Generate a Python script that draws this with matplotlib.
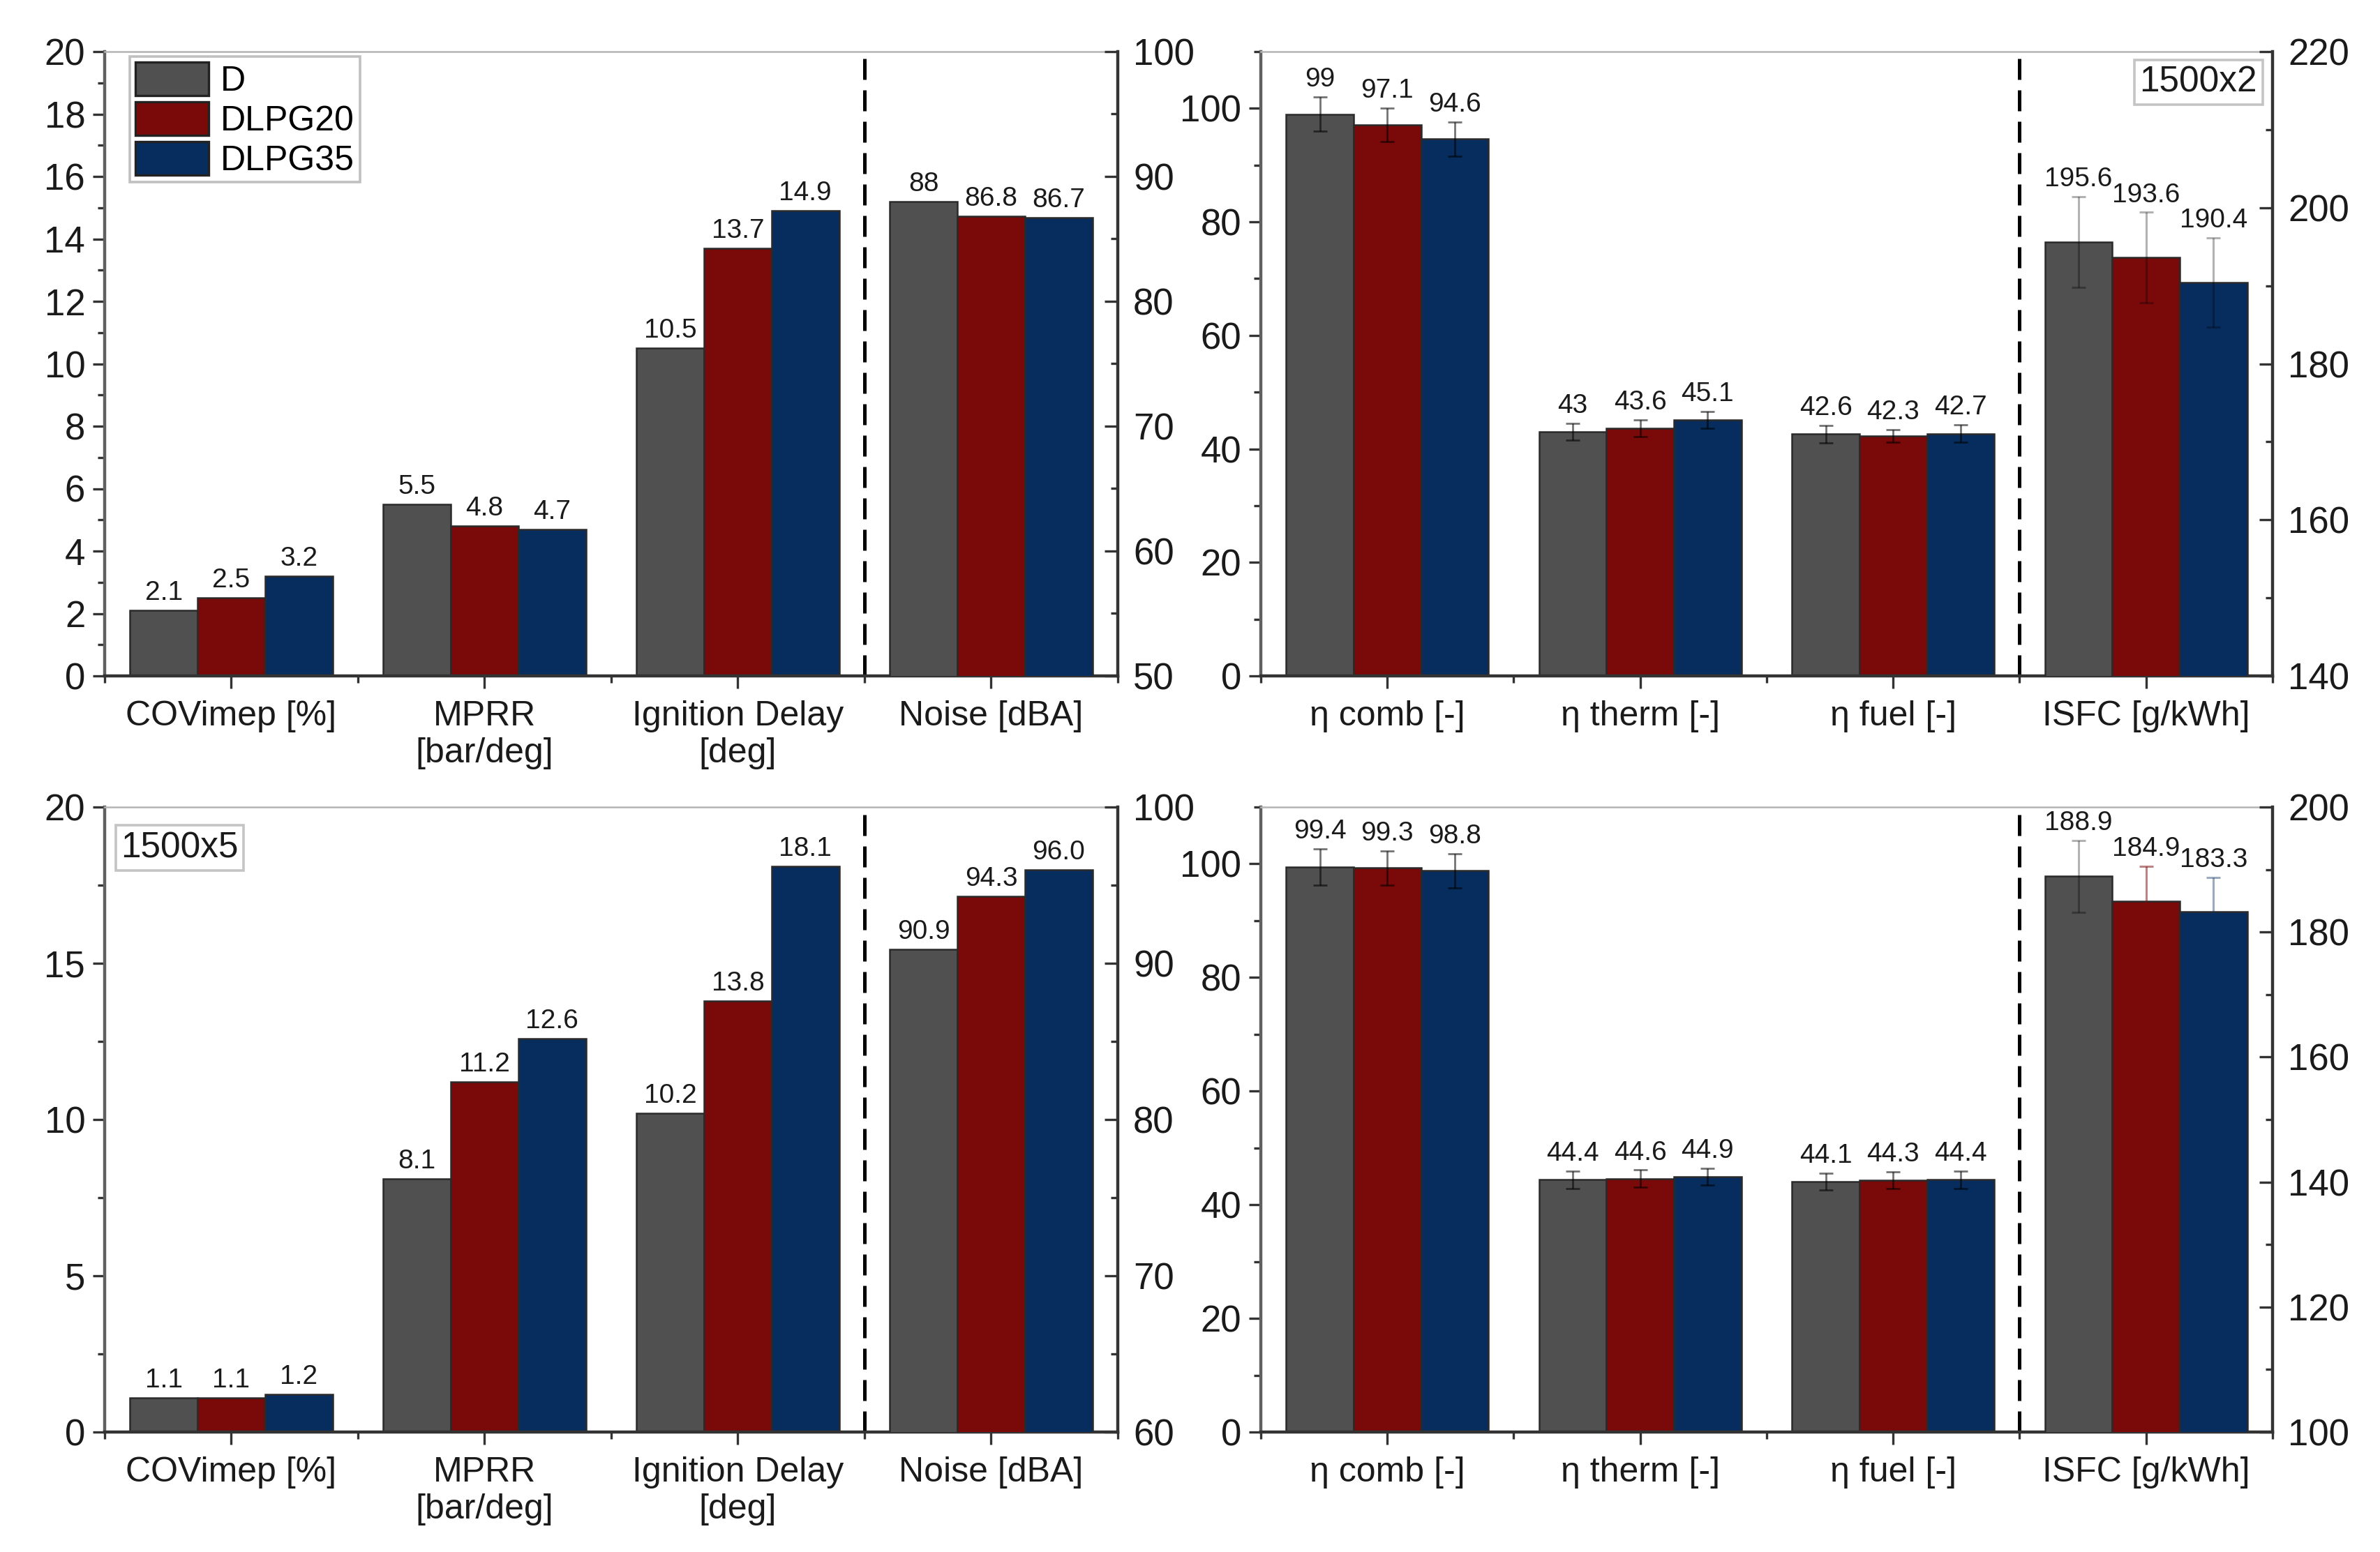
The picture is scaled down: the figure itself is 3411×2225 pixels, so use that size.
import matplotlib
matplotlib.use("Agg")
import matplotlib.pyplot as plt
from matplotlib.patches import Patch
from matplotlib.ticker import MultipleLocator
import numpy as np

plt.rcParams['font.family'] = ['Liberation Sans', 'DejaVu Sans']

series = ["D", "DLPG20", "DLPG35"]
colors = ["#505050", "#7a0909", "#062d5e"]

cats_left = ["COVimep [%]", "MPRR\n[bar/deg]", "Ignition Delay\n[deg]", "Noise [dBA]"]
cats_right = ["\u03b7 comb [-]", "\u03b7 therm [-]", "\u03b7 fuel [-]", "ISFC [g/kWh]"]

# 1500x2, combustion metrics (last group on right axis)
tl_D = [2.1, 5.5, 10.5, 88.0]
tl_L20 = [2.5, 4.8, 13.7, 86.8]
tl_L35 = [3.2, 4.7, 14.9, 86.7]

# 1500x2, efficiencies + ISFC
tr_D = [99.0, 43.0, 42.6, 195.6]
tr_L20 = [97.1, 43.6, 42.3, 193.6]
tr_L35 = [94.6, 45.1, 42.7, 190.4]
tr_err_D = [3.0, 1.5, 1.5, 5.8]
tr_err_L20 = [3.0, 1.5, 1.1, 5.8]
tr_err_L35 = [3.0, 1.5, 1.5, 5.7]

# 1500x5, combustion metrics
bl_D = [1.1, 8.1, 10.2, 90.9]
bl_L20 = [1.1, 11.2, 13.8, 94.3]
bl_L35 = [1.2, 12.6, 18.1, 96.0]

# 1500x5, efficiencies + ISFC
br_D = [99.4, 44.4, 44.1, 188.9]
br_L20 = [99.3, 44.6, 44.3, 184.9]
br_L35 = [98.8, 44.9, 44.4, 183.3]
br_err_D = [3.2, 1.5, 1.5, 5.7]
br_err_L20 = [3.0, 1.5, 1.5, 5.6]
br_err_L35 = [3.0, 1.5, 1.5, 5.4]

W, H = 3412, 2225
fig = plt.figure(figsize=(W / 200, H / 200), dpi=200)

TXT = "#1a1a1a"
w = 0.8 / 3
xc = np.arange(1, 5)


def fmt_g(v):
    return "%g" % v


def fmt_1(v):
    return "%.1f" % v


def panel(rect, cats, vals, errs, ylim_l, maj_l, min_l, ylim_r, maj_r, min_r,
          fmt, isfc_err_colors=None):
    ax = fig.add_axes(rect)
    ax2 = ax.twinx()
    for i in range(3):
        xs = xc + (i - 1) * w
        v = vals[i]
        ax.bar(xs[:3], v[:3], w, color=colors[i], edgecolor="#2a2a2a", lw=0.9, zorder=2)
        ax2.bar(xs[3], v[3], w, color=colors[i], edgecolor="#2a2a2a", lw=0.9, zorder=2)
        tops = list(v)
        if errs is not None:
            e = errs[i]
            ax.errorbar(xs[:3], v[:3], yerr=e[:3], fmt="none", ecolor="black",
                        alpha=0.55, elinewidth=1.0, capsize=3.5, capthick=1.0, zorder=3)
            ec = isfc_err_colors[i]
            ax2.errorbar([xs[3]], [v[3]], yerr=[e[3]], fmt="none", ecolor=ec[0],
                         alpha=ec[1], elinewidth=1.1, capsize=3.5, capthick=1.1, zorder=3)
            tops = [a + b for a, b in zip(v, e)]
        for j in range(4):
            a = ax if j < 3 else ax2
            a.annotate(fmt(v[j]), (xs[j], tops[j]), xytext=(0, 2.5),
                       textcoords="offset points", ha="center", va="bottom",
                       fontsize=14, color=TXT, zorder=4)

    ax.axvline(3.5, color="black", lw=1.8, ls=(0, (6, 3)), zorder=1)

    ax.set_xlim(0.5, 4.5)
    ax.set_xticks(xc)
    ax.set_xticklabels(cats, fontsize=18, color=TXT)
    ax.set_xticks([0.5, 1.5, 2.5, 3.5, 4.5], minor=True)
    ax.tick_params(axis="x", which="major", direction="out", length=6.5, width=1.2,
                   color="#333333", pad=6)
    ax.tick_params(axis="x", which="minor", direction="out", length=3.5, width=1.2,
                   color="#333333")

    ax.set_ylim(*ylim_l)
    ax.yaxis.set_major_locator(MultipleLocator(maj_l))
    ax.yaxis.set_minor_locator(MultipleLocator(min_l))
    if ylim_l[1] == 110:
        ax.set_yticks(np.arange(0, 101, maj_l))
    ax.tick_params(axis="y", which="major", direction="out", length=6, width=1.2,
                   color="#333333", labelsize=19, labelcolor=TXT, pad=4)
    ax.tick_params(axis="y", which="minor", direction="out", length=3.5, width=1.2,
                   color="#333333")

    ax2.set_ylim(*ylim_r)
    ax2.yaxis.set_major_locator(MultipleLocator(maj_r))
    ax2.yaxis.set_minor_locator(MultipleLocator(min_r))
    ax2.tick_params(axis="y", which="major", direction="in", length=7, width=1.2,
                    color="#333333", labelsize=19, labelcolor=TXT, pad=8)
    ax2.tick_params(axis="y", which="minor", direction="in", length=3.5, width=1.2,
                    color="#333333")

    ax.spines["right"].set_visible(False)
    ax.spines["left"].set_color("#606060")
    ax.spines["left"].set_linewidth(1.6)
    ax.spines["bottom"].set_color("#333333")
    ax.spines["bottom"].set_linewidth(1.6)
    ax.spines["top"].set_color("#b4b4b4")
    ax.spines["top"].set_linewidth(0.9)
    for s in ["left", "top", "bottom"]:
        ax2.spines[s].set_visible(False)
    ax2.spines["right"].set_color("#333333")
    ax2.spines["right"].set_linewidth(1.6)
    return ax, ax2


def frac(x0, x1, y0, y1):
    return [x0 / W, 1 - y1 / H, (x1 - x0) / W, (y1 - y0) / H]


gray_err = [("black", 0.3), ("black", 0.3), ("black", 0.3)]
col_err = [("black", 0.3), (colors[1], 0.5), (colors[2], 0.4)]

ax_tl, _ = panel(frac(150, 1602, 74, 969), cats_left, [tl_D, tl_L20, tl_L35], None,
                 (0, 20), 2, 1, (50, 100), 10, 5, fmt_g)
ax_tr, _ = panel(frac(1807, 3257, 74, 969), cats_right, [tr_D, tr_L20, tr_L35],
                 [tr_err_D, tr_err_L20, tr_err_L35],
                 (0, 110), 20, 10, (140, 220), 20, 10, fmt_g, gray_err)
ax_bl, _ = panel(frac(150, 1602, 1157, 2053), cats_left, [bl_D, bl_L20, bl_L35], None,
                 (0, 20), 5, 2.5, (60, 100), 10, 5, fmt_1)
ax_br, _ = panel(frac(1807, 3257, 1157, 2053), cats_right, [br_D, br_L20, br_L35],
                 [br_err_D, br_err_L20, br_err_L35],
                 (0, 110), 20, 10, (100, 200), 20, 10, fmt_1, col_err)

handles = [Patch(facecolor=c, edgecolor="#222222", lw=1.2) for c in colors]
leg = ax_tl.legend(handles, series, loc="upper left", bbox_to_anchor=(0.0248, 0.992),
                   borderaxespad=0, fancybox=False, edgecolor="#c0c0c0", fontsize=18,
                   handlelength=2.1, handleheight=1.1, labelspacing=0.12,
                   handletextpad=0.35, borderpad=0.15, framealpha=1)
leg.get_frame().set_linewidth(1.3)
leg.set_zorder(10)

box = dict(boxstyle="square,pad=0.15", facecolor="white", edgecolor="#c4c4c4", lw=1.3)
ax_tr.text(0.985, 0.978, "1500x2", transform=ax_tr.transAxes, ha="right", va="top",
           fontsize=18.5, color=TXT, bbox=box, zorder=10)
ax_bl.text(0.016, 0.962, "1500x5", transform=ax_bl.transAxes, ha="left", va="top",
           fontsize=18.5, color=TXT, bbox=box, zorder=10)

fig.savefig("out.png", dpi=200)
